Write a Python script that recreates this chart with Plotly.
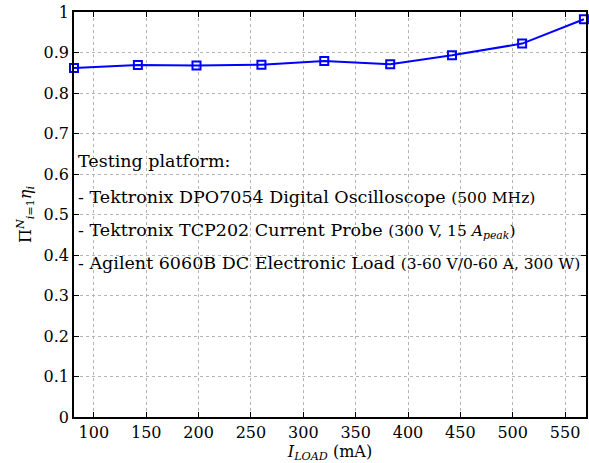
import plotly.graph_objects as go

i_load = [81, 142, 198, 260, 320, 383, 442, 509, 568]
eta = [0.862, 0.869, 0.868, 0.870, 0.879, 0.871, 0.893, 0.922, 0.982]
x_ticks = [100, 150, 200, 250, 300, 350, 400, 450, 500, 550]
y_ticks = [0, 0.1, 0.2, 0.3, 0.4, 0.5, 0.6, 0.7, 0.8, 0.9, 1]
y_tick_text = ["0", "0.1", "0.2", "0.3", "0.4", "0.5", "0.6", "0.7", "0.8", "0.9", "1"]
notes = [
    "Testing platform:",
    "- Tektronix DPO7054 Digital Oscilloscope <span style='font-size:15.5px'>(500 MHz)</span>",
    "- Tektronix TCP202 Current Probe <span style='font-size:15.5px'>(300 V, 15 <i>A<sub>peak</sub></i>)</span>",
    "- Agilent 6060B DC Electronic Load <span style='font-size:15.5px'>(3-60 V/0-60 A, 300 W)</span>",
]
note_y = [0.632, 0.543, 0.460, 0.380]

FONT = "DejaVu Serif"
fig = go.Figure()
fig.add_trace(go.Scatter(
    x=i_load, y=eta, mode="lines+markers",
    line=dict(color="#0000ff", width=2),
    marker=dict(symbol="square-open", size=8, color="#0000ff", line=dict(width=2)),
    cliponaxis=False, showlegend=False,
))
for t, yy in zip(notes, note_y):
    fig.add_annotation(x=0.004, xref="paper", y=yy, yref="y", text=t, showarrow=False,
                       xanchor="left", yanchor="middle", align="left",
                       font=dict(family=FONT, size=17.5, color="black"))

axis_common = dict(showline=True, linecolor="black", linewidth=1.5, mirror="ticks",
                   ticks="inside", ticklen=5, tickcolor="black",
                   showgrid=True, gridcolor="#b4b4b4", griddash="dot", gridwidth=1,
                   zeroline=False, tickfont=dict(family=FONT, size=16, color="black"))
fig.update_xaxes(range=[81, 570], tickvals=x_ticks,
                 title=dict(text="<i>I<sub>LOAD</sub></i> (mA)", font=dict(family=FONT, size=16, color="black"), standoff=4),
                 **axis_common)
fig.update_yaxes(range=[0, 1], tickvals=y_ticks, ticktext=y_tick_text,
                 title=dict(text="Π<sup><i>N</i></sup><sub><i>i</i>=1</sub><i>η<sub>i</sub></i>", font=dict(family=FONT, size=16, color="black"), standoff=8),
                 **axis_common)
fig.update_layout(width=589, height=463, margin=dict(l=74, r=1, t=12, b=46),
                  plot_bgcolor="white", paper_bgcolor="white",
                  font=dict(family=FONT, color="black"))
fig.write_html("out.html")
